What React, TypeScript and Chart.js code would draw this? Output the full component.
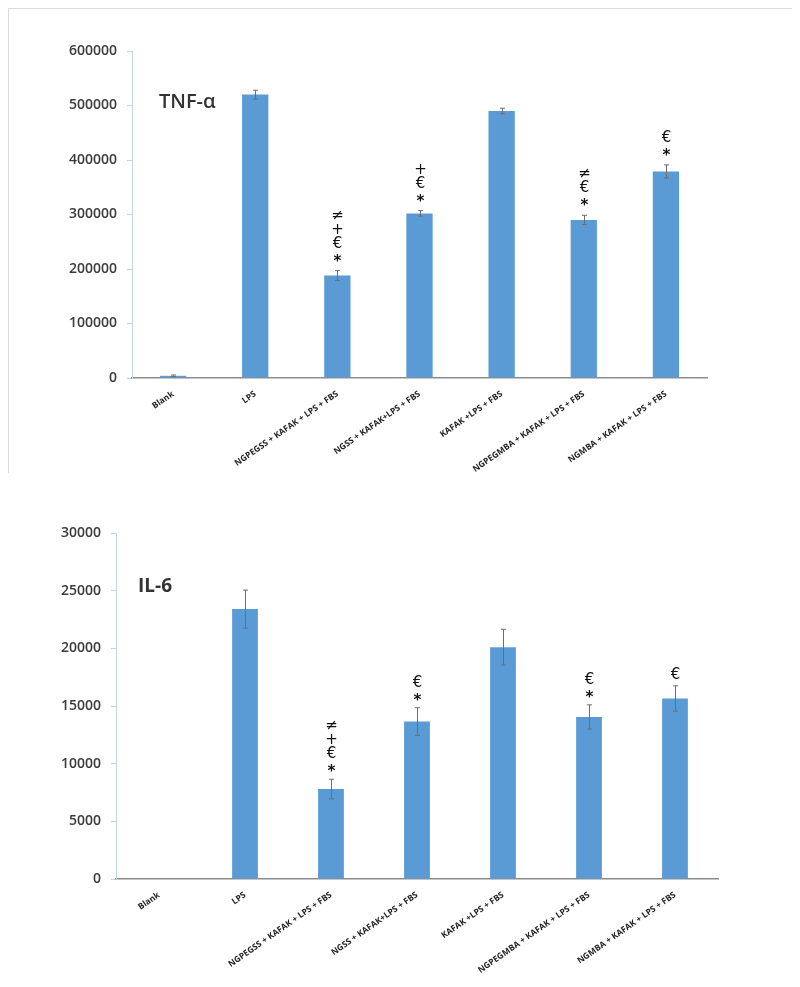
import React, { useEffect, useRef } from "react";
import { Chart, registerables } from "chart.js";
Chart.register(...registerables);

const categories = [
  "Blank",
  "LPS",
  "NGPEGSS + KAFAK + LPS + FBS",
  "NGSS + KAFAK+LPS + FBS",
  "KAFAK +LPS + FBS",
  "NGPEGMBA + KAFAK + LPS + FBS",
  "NGMBA + KAFAK + LPS + FBS",
];

const tnfValues = [4000, 520000, 188000, 302000, 490000, 290000, 379000];
const tnfErrors = [1500, 8000, 9000, 5000, 5000, 8500, 12000];
const tnfMarks = [[], [], ["*", "€", "+", "≠"], ["*", "€", "+"], [], ["*", "€", "≠"], ["*", "€"]];
const tnfTicks = { min: 0, max: 600000, step: 100000 };

const il6Values = [0, 23400, 7800, 13650, 20100, 14050, 15650];
const il6Errors = [0, 1650, 850, 1200, 1550, 1050, 1100];
const il6Marks = [[], [], ["*", "€", "+", "≠"], ["*", "€"], [], ["*", "€"], ["€"]];
const il6Ticks = { min: 0, max: 30000, step: 5000 };

const BAR_COLOR = "#5b9bd5";

const annoPlugin = {
  id: "annoPlugin",
  afterDatasetsDraw(chart: any, _args: any, opts: any) {
    const { ctx, scales, chartArea } = chart;
    const y = scales.y;
    const meta = chart.getDatasetMeta(0);
    ctx.save();
    opts.values.forEach((v: number, i: number) => {
      const e = opts.errors[i];
      const xc = Math.round(meta.data[i].x) + 0.5;
      let top = y.getPixelForValue(v);
      if (e > 0) {
        const yt = y.getPixelForValue(v + e);
        const yb = y.getPixelForValue(v - e);
        ctx.strokeStyle = "#6e6e6e";
        ctx.lineWidth = 1;
        ctx.beginPath();
        ctx.moveTo(xc, yt);
        ctx.lineTo(xc, yb);
        ctx.moveTo(xc - 2.5, yt);
        ctx.lineTo(xc + 2.5, yt);
        ctx.moveTo(xc - 2.5, yb);
        ctx.lineTo(xc + 2.5, yb);
        ctx.stroke();
        top = yt;
      }
      const marks: string[] = opts.marks[i];
      ctx.fillStyle = "#111";
      ctx.textAlign = "center";
      ctx.textBaseline = "middle";
      marks.forEach((m, k) => {
        const yy = top - opts.offset - k * 14;
        if (m === "*") {
          ctx.font = "bold 15px 'DejaVu Sans'";
          ctx.fillText(m, xc, yy + 4);
        } else {
          ctx.font = "15px 'DejaVu Sans'";
          ctx.fillText(m, xc, yy);
        }
      });
    });
    ctx.font = opts.titleFont;
    ctx.fillStyle = "#333";
    ctx.textAlign = "left";
    ctx.textBaseline = "middle";
    ctx.fillText(opts.title, chartArea.left + opts.titleDx, chartArea.top + opts.titleDy);
    ctx.restore();
  },
};

function makeConfig(p: any) {
  return {
    type: "bar",
    data: {
      labels: categories,
      datasets: [
        {
          data: p.values,
          backgroundColor: BAR_COLOR,
          borderWidth: 0,
          categoryPercentage: 1,
          barPercentage: p.barPct,
        },
      ],
    },
    plugins: [annoPlugin],
    options: {
      animation: false,
      responsive: false,
      maintainAspectRatio: false,
      layout: { padding: { top: p.padTop, right: p.padRight, left: 0, bottom: 0 } },
      plugins: {
        legend: { display: false },
        tooltip: { enabled: false },
        title: { display: false },
        annoPlugin: {
          values: p.values,
          errors: p.errors,
          marks: p.marks,
          offset: p.offset,
          title: p.title,
          titleFont: p.titleFont,
          titleDx: p.titleDx,
          titleDy: p.titleDy,
        },
      },
      scales: {
        x: {
          grid: { display: false },
          border: { display: true, color: "#8c8c8c", width: 1.5 },
          ticks: {
            autoSkip: false,
            minRotation: 35,
            maxRotation: 35,
            padding: 3,
            color: "#222",
            font: { family: "'Open Sans'", size: 8.5, weight: "bold" },
          },
          afterFit: (s: any) => {
            s.height = p.xHeight;
          },
        },
        y: {
          min: p.ticks.min,
          max: p.ticks.max,
          grid: {
            display: true,
            drawOnChartArea: false,
            drawTicks: true,
            tickLength: 5,
            color: "#c3d3e2",
          },
          border: { display: true, color: "#c3d3e2", width: 1 },
          ticks: {
            stepSize: p.ticks.step,
            padding: 10,
            color: "#3a3a3a",
            font: { family: "'Open Sans'", size: 14, weight: 600 },
            callback: (v: any) => String(v),
          },
          afterFit: (s: any) => {
            s.width = p.yWidth;
          },
        },
      },
    },
  };
}

function BarChart(props: any) {
  const ref = useRef<HTMLCanvasElement>(null);
  useEffect(() => {
    if (!ref.current) return;
    const chart = new Chart(ref.current, makeConfig(props.cfg) as any);
    return () => chart.destroy();
  }, []);
  return (
    <canvas
      ref={ref}
      width={props.width}
      height={props.height}
      style={{ display: "block", width: props.width, height: props.height }}
    />
  );
}

export default function App() {
  const top = {
    values: tnfValues,
    errors: tnfErrors,
    marks: tnfMarks,
    ticks: tnfTicks,
    barPct: 0.32,
    padTop: 42,
    padRight: 85,
    yWidth: 123,
    xHeight: 95,
    offset: 13,
    title: "TNF-α",
    titleFont: "600 20px 'Open Sans'",
    titleDx: 27,
    titleDy: 51,
  };
  const bottom = {
    values: il6Values,
    errors: il6Errors,
    marks: il6Marks,
    ticks: il6Ticks,
    barPct: 0.3,
    padTop: 60,
    padRight: 74,
    yWidth: 108,
    xHeight: 108,
    offset: 11,
    title: "IL-6",
    titleFont: "bold 19px 'Open Sans'",
    titleDx: 22,
    titleDy: 54,
  };
  return (
    <div style={{ width: 784, background: "#fff" }}>
      <div
        style={{
          width: 783,
          height: 464,
          borderTop: "1px solid #dcdcdc",
          borderLeft: "1px solid #dcdcdc",
        }}
      >
        <BarChart cfg={top} width={783} height={464} />
      </div>
      <BarChart cfg={bottom} width={784} height={514} />
    </div>
  );
}
